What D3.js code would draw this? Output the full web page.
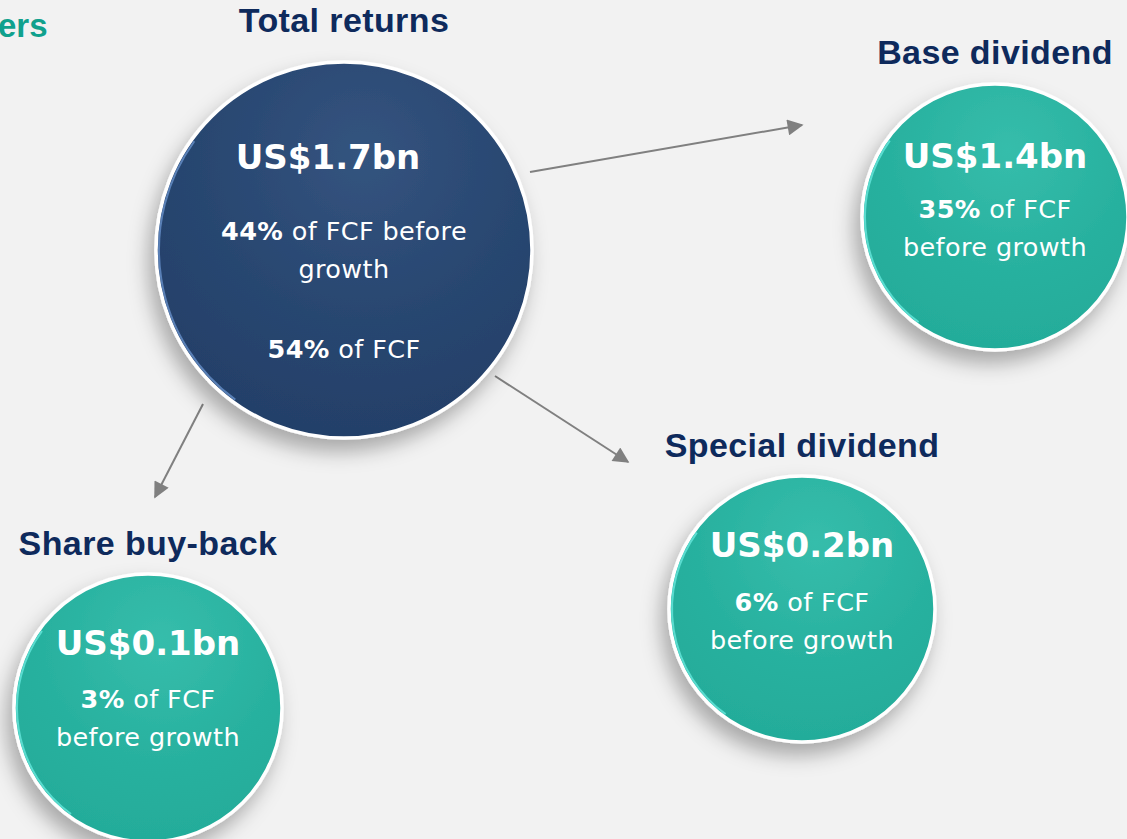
<!DOCTYPE html>
<html>
<head>
<meta charset="utf-8">
<script src="https://cdn.jsdelivr.net/npm/d3@7"></script>
<style>
  html, body { margin: 0; padding: 0; background: #f2f2f2; }
  svg { display: block; font-family: "Liberation Sans", Arial, sans-serif; }
</style>
</head>
<body>
<svg id="chart"></svg>
<script>
// values
const names = ["Total returns", "Base dividend", "Special dividend", "Share buy-back"];
const amounts = ["US$1.7bn", "US$1.4bn", "US$0.2bn", "US$0.1bn"];
const pctBeforeGrowth = ["44%", "35%", "6%", "3%"];
const pctFCF = ["54%", null, null, null];

// layout (pixels) for each bubble, same order as above
const layout = [
  {cx: 344, cy: 250, r: 188, fill: "navy", titleY: 32, amtDx: -16, amtY: 169, lineY: [240, 278], fcfY: 358, wrap: ["of FCF before", "growth"]},
  {cx: 995, cy: 217, r: 133, fill: "teal", titleY: 64, amtDx: 0, amtY: 168, lineY: [218, 256], wrap: ["of FCF", "before growth"]},
  {cx: 802, cy: 609, r: 133, fill: "teal", titleY: 457, amtDx: 0, amtY: 557, lineY: [611, 649], wrap: ["of FCF", "before growth"]},
  {cx: 148, cy: 708, r: 134, fill: "teal", titleY: 555, amtDx: 0, amtY: 655, lineY: [708, 746], wrap: ["of FCF", "before growth"]}
];

// arrows from total to each part
const arrows = [
  {from: [530, 172], to: [802, 125]},
  {from: [495, 376], to: [628, 462]},
  {from: [203, 404], to: [155, 497]}
];

const bodyFont = "'DejaVu Sans', Verdana, sans-serif";

const width = 1127, height = 839;
const svg = d3.select("#chart").attr("width", width).attr("height", height);

svg.append("rect").attr("width", width).attr("height", height).attr("fill", "#f2f2f2");

const defs = svg.append("defs");

const shadow = defs.append("filter").attr("id", "shadow")
    .attr("x", "-30%").attr("y", "-30%").attr("width", "160%").attr("height", "160%");
shadow.append("feDropShadow")
    .attr("dx", -6).attr("dy", 12).attr("stdDeviation", 10)
    .attr("flood-color", "#000").attr("flood-opacity", 0.3);

const grads = {
  navy: ["#34547f", "#284670", "#233f68"],
  teal: ["#36bdab", "#28b19f", "#23ab99"]
};
Object.entries(grads).forEach(([k, c]) => {
  const g = defs.append("radialGradient").attr("id", "g-" + k)
      .attr("cx", "55%").attr("cy", "25%").attr("r", "80%");
  g.append("stop").attr("offset", "0%").attr("stop-color", c[0]);
  g.append("stop").attr("offset", "55%").attr("stop-color", c[1]);
  g.append("stop").attr("offset", "100%").attr("stop-color", c[2]);
});

// partial heading cut off at the left edge
svg.append("text")
    .attr("x", -2).attr("y", 37)
    .attr("font-size", 33).attr("font-weight", "bold")
    .attr("fill", "#10a18d")
    .text("ers");

// arrows
const marker = defs.append("marker").attr("id", "arrow")
    .attr("viewBox", "0 0 10 10").attr("refX", 9).attr("refY", 5)
    .attr("markerWidth", 9).attr("markerHeight", 8)
    .attr("markerUnits", "strokeWidth")
    .attr("orient", "auto");
marker.append("path").attr("d", "M0,0 L10,5 L0,10 Z").attr("fill", "#808080");

svg.append("g").selectAll("line")
  .data(arrows)
  .join("line")
    .attr("x1", d => d.from[0]).attr("y1", d => d.from[1])
    .attr("x2", d => d.to[0]).attr("y2", d => d.to[1])
    .attr("stroke", "#808080").attr("stroke-width", 2)
    .attr("marker-end", "url(#arrow)");

const items = names.map((n, i) => ({
  name: n, amount: amounts[i], pct: pctBeforeGrowth[i], fcf: pctFCF[i], ...layout[i]
}));

const bubble = svg.append("g").selectAll("g")
  .data(items)
  .join("g");

bubble.append("circle")
    .attr("cx", d => d.cx).attr("cy", d => d.cy).attr("r", d => d.r)
    .attr("fill", d => `url(#g-${d.fill})`)
    .attr("stroke", "#ffffff").attr("stroke-width", 3.5)
    .attr("filter", "url(#shadow)");

// light rim on the left side of each bubble
bubble.append("path")
    .attr("d", d => {
      const r = d.r - 3;
      const a0 = Math.PI * 0.7, a1 = Math.PI * 1.2;
      return `M${d.cx + r * Math.cos(a0)},${d.cy + r * Math.sin(a0)} A${r},${r} 0 0 1 ${d.cx + r * Math.cos(a1)},${d.cy + r * Math.sin(a1)}`;
    })
    .attr("fill", "none")
    .attr("stroke", d => d.fill === "navy" ? "#6f9ad6" : "#6ff0e6")
    .attr("stroke-width", 2)
    .attr("opacity", 0.7);

// headings above bubbles
bubble.append("text")
    .attr("x", d => d.cx).attr("y", d => d.titleY)
    .attr("text-anchor", "middle")
    .attr("font-size", 34).attr("font-weight", "bold")
    .attr("letter-spacing", 0.4)
    .attr("fill", "#0e2a5c")
    .text(d => d.name);

// amount
bubble.append("text")
    .attr("x", d => d.cx + d.amtDx).attr("y", d => d.amtY)
    .attr("text-anchor", "middle")
    .attr("font-family", bodyFont)
    .attr("font-size", 34).attr("font-weight", "bold")
    .attr("fill", "#ffffff")
    .text(d => d.amount);

// share of FCF before growth
const pctText = bubble.append("text")
    .attr("text-anchor", "middle")
    .attr("font-family", bodyFont)
    .attr("font-size", 25.5)
    .attr("letter-spacing", 0.4)
    .attr("fill", "#ffffff");
pctText.append("tspan")
    .attr("x", d => d.cx).attr("y", d => d.lineY[0])
    .attr("font-weight", "bold")
    .text(d => d.pct);
pctText.append("tspan")
    .text(d => " " + d.wrap[0]);
pctText.append("tspan")
    .attr("x", d => d.cx).attr("y", d => d.lineY[1])
    .text(d => d.wrap[1]);

// share of FCF (total only)
const fcfText = bubble.filter(d => d.fcf).append("text")
    .attr("x", d => d.cx).attr("y", d => d.fcfY)
    .attr("text-anchor", "middle")
    .attr("font-family", bodyFont)
    .attr("font-size", 25.5)
    .attr("letter-spacing", 0.4)
    .attr("fill", "#ffffff");
fcfText.append("tspan").attr("font-weight", "bold").text(d => d.fcf);
fcfText.append("tspan").text(" of FCF");
</script>
</body>
</html>
